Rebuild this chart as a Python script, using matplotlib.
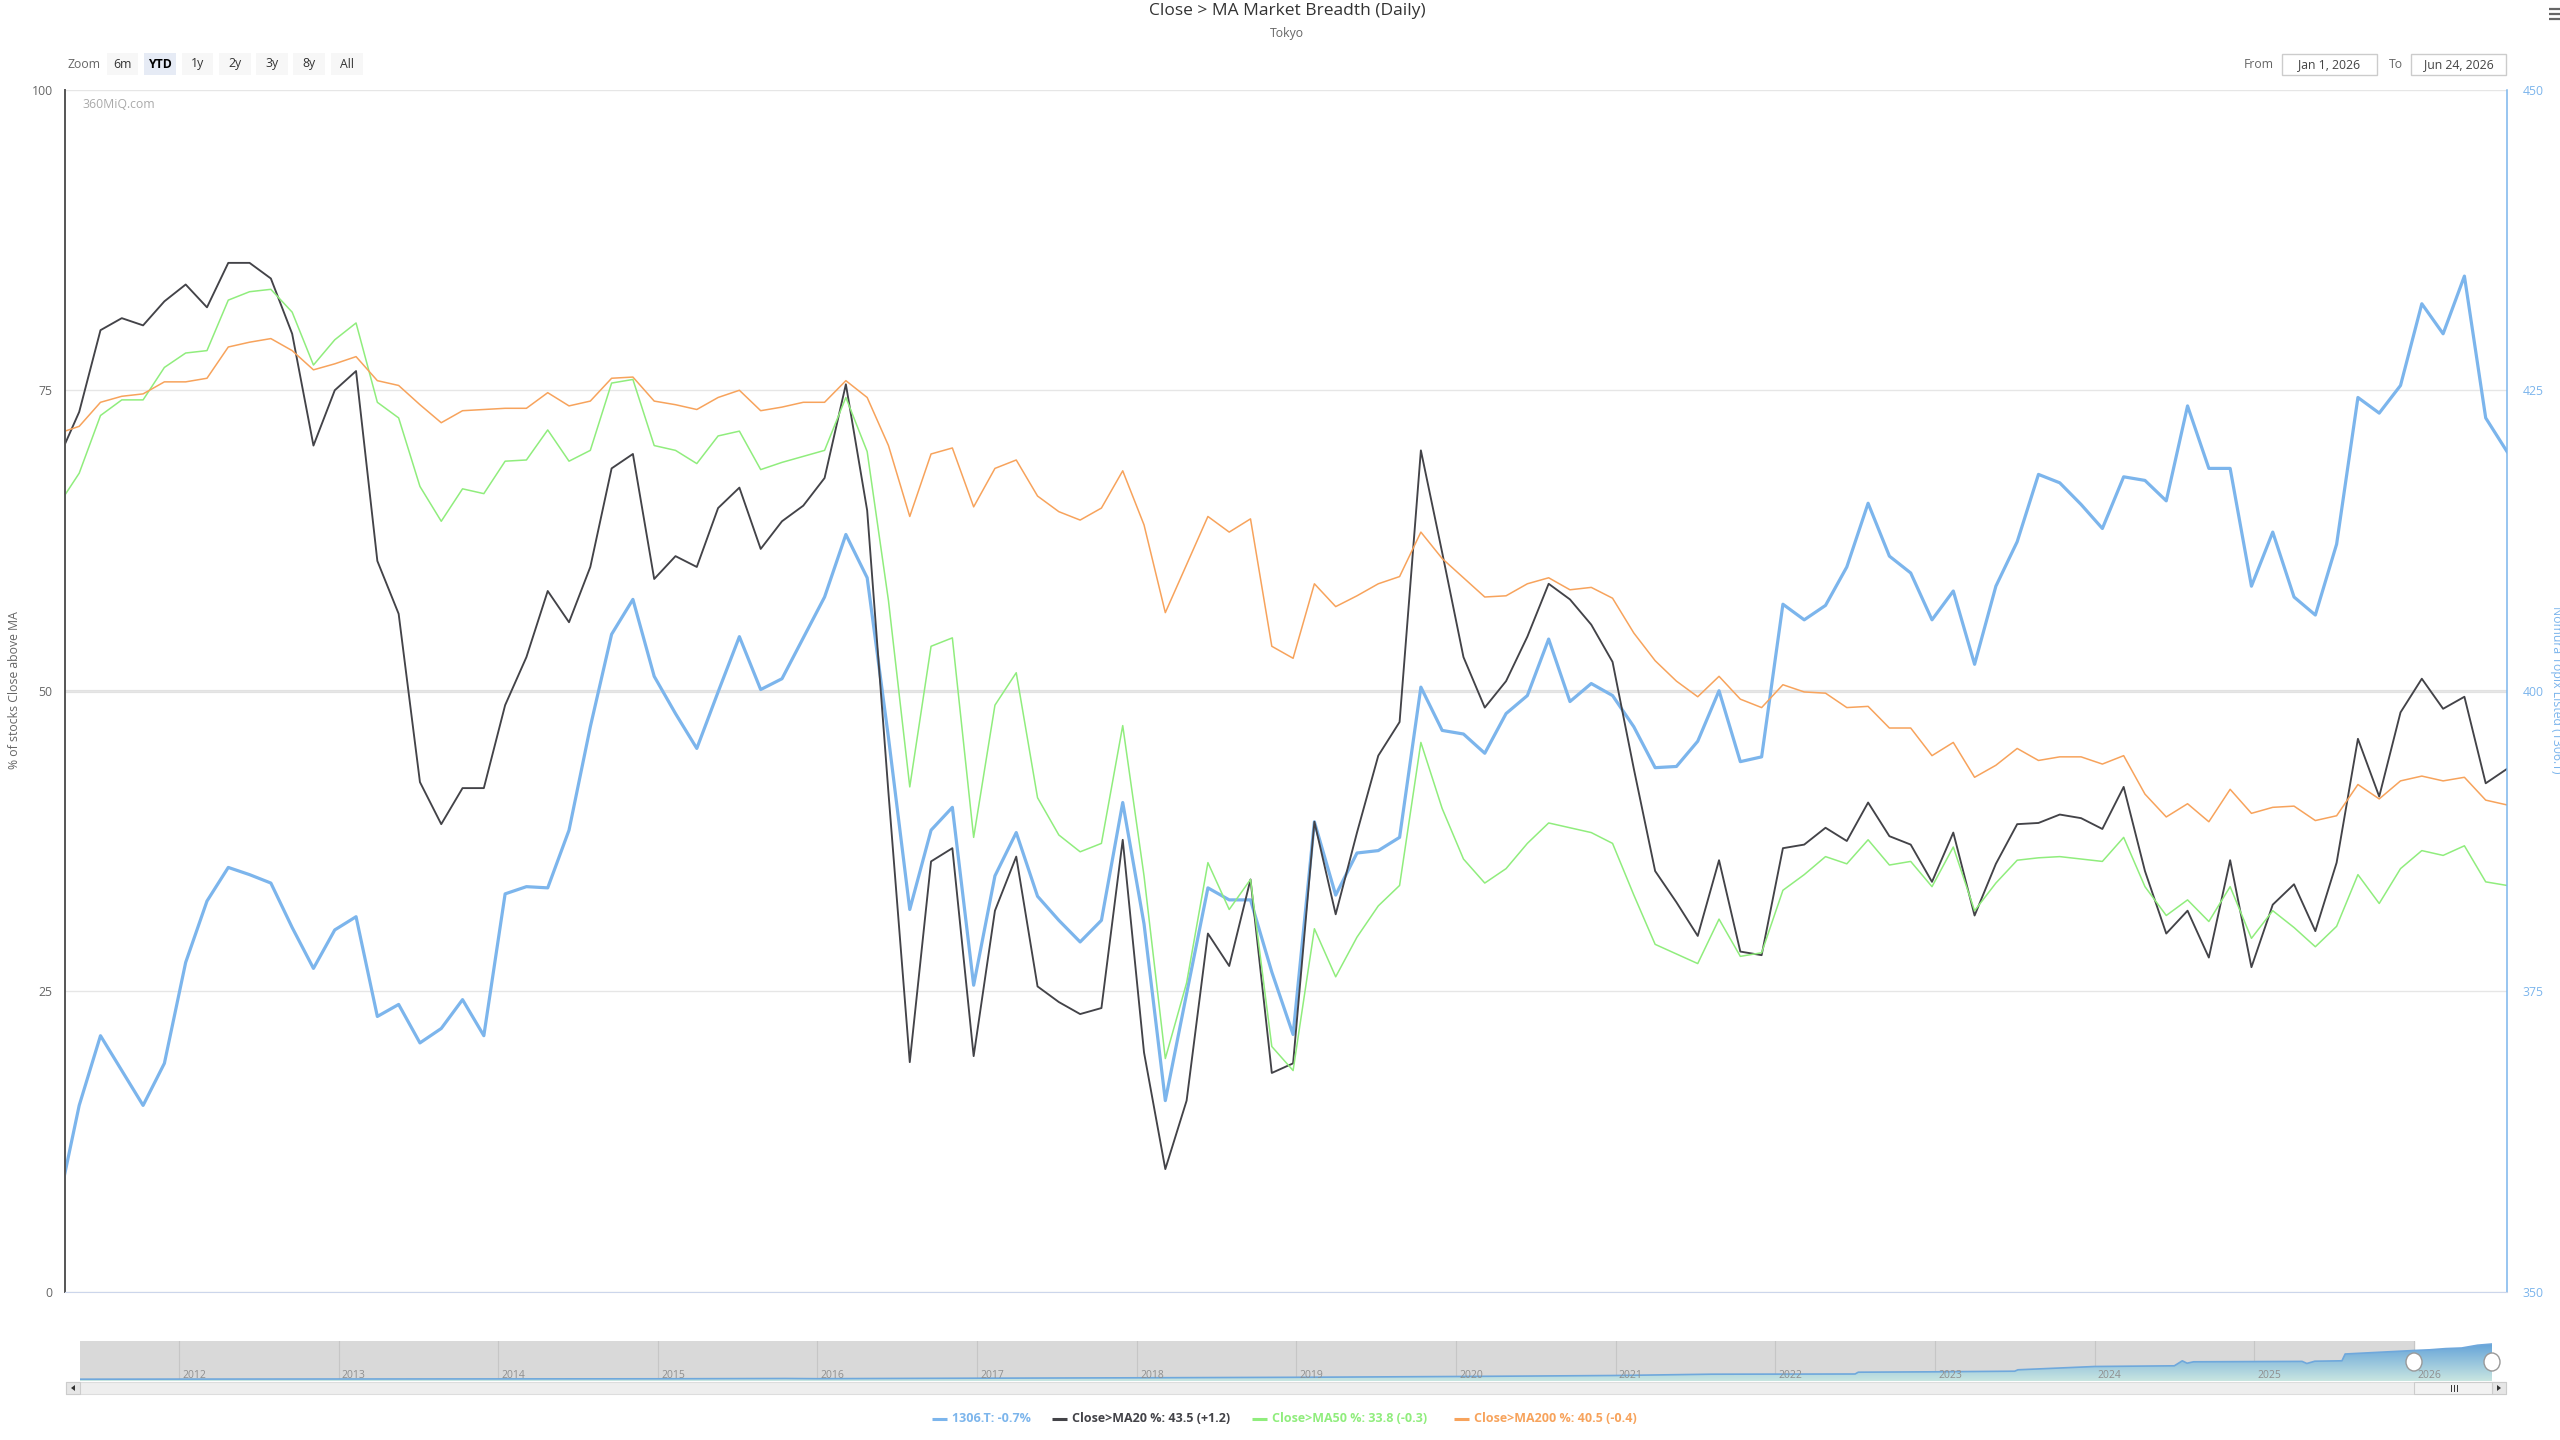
import numpy as np
import pandas as pd
import matplotlib
matplotlib.use("Agg")
import matplotlib.pyplot as plt
from matplotlib.patches import Rectangle, Ellipse, Polygon

W, H = 2560, 1440
plt.rcParams['font.family'] = ['Open Sans', 'DejaVu Sans']

# Tokyo trading days (Dec 30 2025 is the last point before the visible range)
holidays = ["2025-12-31", "2026-01-01", "2026-01-02", "2026-01-12", "2026-02-11",
            "2026-02-23", "2026-03-20", "2026-04-29", "2026-05-04", "2026-05-05", "2026-05-06"]
dates = pd.bdate_range("2025-12-30", "2026-06-24", freq="C", holidays=holidays)

topix = [357.1, 365.5, 371.3, 368.4, 365.5, 369.0, 377.4, 382.5, 385.3, 384.7,
         384.0, 380.3, 376.9, 380.1, 381.2, 372.9, 373.9, 370.7, 371.9, 374.3,
         371.3, 383.1, 383.7, 383.6, 388.4, 397.0, 404.7, 407.6, 401.2, 398.1,
         395.2, 399.9, 404.5, 400.1, 401.0, 404.4, 407.8, 413.0, 409.4, 396.1,
         381.8, 388.4, 390.3, 375.5, 384.6, 388.2, 382.9, 380.9, 379.1, 380.9,
         390.7, 380.6, 365.9, 374.8, 383.6, 382.6, 382.6, 376.6, 371.4, 389.1,
         383.0, 386.5, 386.7, 387.8, 400.3, 396.7, 396.4, 394.8, 398.1, 399.6,
         404.3, 399.1, 400.6, 399.6, 397.0, 393.6, 393.7, 395.8, 400.0, 394.1,
         394.5, 407.2, 405.9, 407.1, 410.3, 415.6, 411.2, 409.8, 405.9, 408.3,
         402.2, 408.7, 412.4, 418.0, 417.3, 415.5, 413.5, 417.8, 417.5, 415.8,
         423.7, 418.5, 418.5, 408.7, 413.2, 407.8, 406.3, 412.2, 424.4, 423.1,
         425.4, 432.2, 429.7, 434.5, 422.7, 419.9]

ma20 = [69.2, 73.2, 80.0, 81.0, 80.4, 82.4, 83.8, 81.9, 85.6, 85.6,
        84.3, 79.7, 70.4, 75.0, 76.6, 60.8, 56.4, 42.4, 38.9, 41.9,
        41.9, 48.8, 52.8, 58.3, 55.7, 60.3, 68.5, 69.7, 59.3, 61.2,
        60.3, 65.2, 66.9, 61.8, 64.1, 65.4, 67.7, 75.5, 65.0, 41.5,
        19.1, 35.8, 36.9, 19.6, 31.7, 36.2, 25.4, 24.1, 23.1, 23.6,
        37.6, 19.9, 10.2, 15.9, 29.8, 27.1, 34.3, 18.2, 19.0, 39.1,
        31.4, 38.2, 44.6, 47.4, 70.0, 61.5, 52.8, 48.6, 50.8, 54.5,
        58.9, 57.6, 55.5, 52.4, 43.5, 35.0, 32.4, 29.6, 35.9, 28.3,
        28.0, 36.9, 37.2, 38.6, 37.5, 40.7, 37.9, 37.2, 34.1, 38.2,
        31.3, 35.6, 38.9, 39.0, 39.7, 39.4, 38.5, 42.0, 35.0, 29.8,
        31.7, 27.8, 35.9, 27.0, 32.2, 33.9, 30.0, 35.7, 46.0, 41.2,
        48.2, 51.0, 48.5, 49.5, 42.3, 43.5]

ma50 = [65.4, 68.1, 72.9, 74.2, 74.2, 76.9, 78.1, 78.3, 82.5, 83.2,
        83.4, 81.5, 77.1, 79.2, 80.6, 74.0, 72.7, 67.0, 64.1, 66.8,
        66.4, 69.1, 69.2, 71.7, 69.1, 70.0, 75.6, 75.9, 70.4, 70.0,
        68.9, 71.2, 71.6, 68.4, 69.0, 69.5, 70.0, 74.4, 69.9, 57.5,
        42.0, 53.7, 54.4, 37.8, 48.8, 51.5, 41.1, 38.0, 36.6, 37.3,
        47.1, 34.6, 19.4, 25.7, 35.7, 31.8, 34.3, 20.4, 18.4, 30.2,
        26.2, 29.5, 32.1, 33.8, 45.7, 40.2, 36.0, 34.0, 35.2, 37.3,
        39.0, 38.6, 38.2, 37.3, 33.0, 28.9, 28.1, 27.3, 31.0, 27.9,
        28.2, 33.4, 34.7, 36.2, 35.6, 37.6, 35.5, 35.8, 33.7, 37.0,
        31.7, 34.0, 35.9, 36.1, 36.2, 36.0, 35.8, 37.8, 33.7, 31.3,
        32.6, 30.8, 33.7, 29.4, 31.7, 30.3, 28.7, 30.4, 34.7, 32.3,
        35.2, 36.7, 36.3, 37.1, 34.1, 33.8]

ma200 = [71.4, 72.0, 74.0, 74.5, 74.7, 75.7, 75.7, 76.0, 78.6, 79.0,
         79.3, 78.3, 76.7, 77.2, 77.8, 75.8, 75.4, 73.8, 72.3, 73.3,
         73.4, 73.5, 73.5, 74.8, 73.7, 74.1, 76.0, 76.1, 74.1, 73.8,
         73.4, 74.4, 75.0, 73.3, 73.6, 74.0, 74.0, 75.8, 74.4, 70.4,
         64.5, 69.7, 70.2, 65.3, 68.5, 69.2, 66.2, 64.9, 64.2, 65.2,
         68.3, 63.8, 56.5, 60.5, 64.5, 63.2, 64.3, 53.7, 52.7, 58.9,
         57.0, 57.9, 58.9, 59.5, 63.2, 61.0, 59.4, 57.8, 57.9, 58.9,
         59.4, 58.4, 58.6, 57.7, 54.8, 52.5, 50.8, 49.5, 51.2, 49.3,
         48.6, 50.5, 49.9, 49.8, 48.6, 48.7, 46.9, 46.9, 44.6, 45.7,
         42.8, 43.8, 45.2, 44.2, 44.5, 44.5, 43.9, 44.6, 41.4, 39.5,
         40.6, 39.1, 41.8, 39.8, 40.3, 40.4, 39.2, 39.6, 42.2, 41.0,
         42.5, 42.9, 42.5, 42.8, 40.9, 40.5]

tick_dates = ["2026-01-05", "2026-01-12", "2026-01-19", "2026-01-26", "2026-02-02", "2026-02-09",
              "2026-02-16", "2026-02-23", "2026-03-02", "2026-03-09", "2026-03-16", "2026-03-23",
              "2026-03-30", "2026-04-06", "2026-04-13", "2026-04-20", "2026-04-27", "2026-05-11",
              "2026-05-18", "2026-05-25", "2026-06-01", "2026-06-08", "2026-06-15", "2026-06-22"]
tick_labels = ["5. Jan", "12. Jan", "19. Jan", "26. Jan", "2. Feb", "9. Feb", "16. Feb", "23. Feb",
               "2. Mar", "9. Mar", "16. Mar", "23. Mar", "30. Mar", "6. Apr", "13. Apr", "20. Apr",
               "27. Apr", "11. May", "18. May", "25. May", "1. Jun", "8. Jun", "15. Jun", "22. Jun"]

# navigator (long history of 1306.T, rough read)
nav_years = [2011.38, 2012.0, 2013.0, 2014.0, 2015.0, 2015.8, 2016.0, 2017.0, 2018.0, 2019.0,
             2020.0, 2021.0, 2021.6, 2022.5, 2022.52, 2023.0, 2023.5, 2023.52, 2024.0, 2024.5,
             2024.55, 2024.58, 2024.62, 2025.3, 2025.33, 2025.38, 2025.55, 2025.57, 2026.0, 2026.1,
             2026.2, 2026.3, 2026.4, 2026.49]
nav_prices = [78, 79, 80, 81, 82, 85, 83, 88, 92, 97,
              105, 115, 128, 130, 148, 152, 158, 172, 205, 212,
              262, 238, 252, 256, 235, 258, 262, 330, 365, 372,
              384, 390, 418, 430]
nav_year_ticks = list(range(2012, 2027))

BLUE, BLACK, GREEN, ORANGE = '#7cb5ec', '#434348', '#90ed7d', '#f7a35c'


def box(x0, y0, x1, y1):
    return [x0 / W, 1 - y1 / H, (x1 - x0) / W, (y1 - y0) / H]


fig = plt.figure(figsize=(W / 100, H / 100), dpi=100)

dnum = dates.values.astype('datetime64[D]').astype(float)
x = np.arange(len(dates))
def ordinal(d): return np.interp(np.datetime64(d, 'D').astype(float), dnum, x)

# right axis (price) underneath, carries the grid
ax2 = fig.add_axes(box(65, 89.8, 2507, 1291.7))
ax = ax2.twinx()
ax.yaxis.tick_left()
ax2.yaxis.tick_right()
ax.set_zorder(ax2.get_zorder() + 1)
ax.patch.set_visible(False)

ax2.set_ylim(350, 450)
ax.set_ylim(0, 100)
ax2.set_xlim(ordinal("2026-01-01"), x[-1])
ax.set_xlim(ordinal("2026-01-01"), x[-1])

ax2.set_yticks([350, 375, 400, 425, 450])
ax2.grid(axis='y', color='#e6e6e6', lw=1)
ax2.axhline(400, color='#e2e2e2', lw=2.3, zorder=1)
ax2.plot(x, topix, color=BLUE, lw=2.3, solid_joinstyle='round', zorder=3)

ax.plot(x, ma20, color=BLACK, lw=1.35, solid_joinstyle='round')
ax.plot(x, ma50, color=GREEN, lw=1.1, solid_joinstyle='round')
ax.plot(x, ma200, color=ORANGE, lw=1.1, solid_joinstyle='round')

ax.set_yticks([0, 25, 50, 75, 100])
ax.tick_params(axis='y', length=0, pad=9, labelsize=8.8, labelcolor='#666666')
ax2.tick_params(axis='y', length=0, pad=11, labelsize=8.8, labelcolor=BLUE)
ax.set_xticks([ordinal(d) for d in tick_dates], tick_labels)
ax.tick_params(axis='x', length=4.3, width=1, color='#ccd6eb', pad=3, labelsize=8.5,
               labelcolor='#666666')
ax2.tick_params(axis='x', length=0, labelbottom=False)

for a in (ax, ax2):
    for s in a.spines.values():
        s.set_visible(False)
ax.spines['left'].set_visible(True)
ax.spines['left'].set_color('#555555')
ax.spines['left'].set_linewidth(1.4)
ax.spines['bottom'].set_visible(True)
ax.spines['bottom'].set_color('#ccd6eb')
ax.spines['right'].set_visible(True)
ax.spines['right'].set_color(BLUE)
ax.spines['right'].set_linewidth(1.1)

fig.text(15 / W, 1 - 690 / H, '% of stocks Close above MA', rotation=90, ha='center', va='center',
         color='#666666', fontsize=8.8)
fig.text(2556 / W, 1 - 690 / H, 'Nomura Topix Listed (1306.T)', rotation=270, ha='center',
         va='center', color=BLUE, fontsize=8.8)

# navigator
nav = fig.add_axes(box(80, 1341, 2492, 1381))
nav.set_xlim(2011.38, 2026.49)
nav.set_ylim(60, 460)
nav.axis('off')
nav.axvspan(2011.38, 2026.0, color='#d9d9d9', zorder=0)
for yr in nav_year_ticks:
    nav.axvline(yr, color='#c6c6c6', lw=0.8, zorder=1)
    nav.text(yr + 0.02, 95, str(yr), color='#8f8f8f', fontsize=7.5, ha='left', va='baseline',
             zorder=4)
area = nav.fill_between(nav_years, nav_prices, 60, color='none', lw=0, zorder=2)
grad = np.linspace(0, 1, 256).reshape(-1, 1)
cmap = matplotlib.colors.LinearSegmentedColormap.from_list('nav', ['#c9e6e1', '#5e9fd8'])
im = nav.imshow(grad, cmap=cmap, extent=[2011.38, 2026.49, 60, 460], origin='lower',
                aspect='auto', zorder=2)
im.set_clip_path(area.get_paths()[0], transform=nav.transData)
nav.plot(nav_years, nav_prices, color='#6fa8dc', lw=1.2, zorder=3)

# overlay in pixel coordinates for the chrome
ov = fig.add_axes([0, 0, 1, 1], zorder=20)
ov.set_xlim(0, W)
ov.set_ylim(H, 0)
ov.axis('off')
ov.patch.set_visible(False)

ov.text(1287, 11, 'Close > MA Market Breadth (Daily)', ha='center', va='center', fontsize=12.5,
        color='#333333')
ov.text(1287, 33, 'Tokyo', ha='center', va='center', fontsize=8.8, color='#666666')

ov.text(67, 64, 'Zoom', ha='left', va='center', fontsize=8.8, color='#666666')
buttons = [('6m', 107, 138), ('YTD', 144, 176), ('1y', 182, 213), ('2y', 219, 251),
           ('3y', 256, 288), ('8y', 293, 325), ('All', 331, 363)]
for lab, x0, x1 in buttons:
    sel = lab == 'YTD'
    ov.add_patch(Rectangle((x0, 53), x1 - x0, 22, fc='#e6ebf5' if sel else '#f7f7f7', ec='none'))
    ov.text((x0 + x1) / 2, 64, lab, ha='center', va='center', fontsize=8.8,
            color='#000000' if sel else '#333333', fontweight='bold' if sel else 'normal')

ov.text(2274, 64, 'From', ha='right', va='center', fontsize=8.8, color='#666666')
ov.text(2396, 64, 'To', ha='center', va='center', fontsize=8.8, color='#666666')
for lab, x0, x1 in [('Jan 1, 2026', 2282, 2377), ('Jun 24, 2026', 2411, 2506)]:
    ov.add_patch(Rectangle((x0, 54), x1 - x0, 21, fc='white', ec='#cccccc', lw=1))
    ov.text((x0 + x1) / 2, 64.5, lab, ha='center', va='center', fontsize=8.8, color='#444444')

ov.text(82, 105, '360MiQ.com', ha='left', va='center', fontsize=8.8, color='#aaaaaa')

for yy in (9, 14, 19):
    ov.plot([2549, 2560], [yy, yy], color='#666666', lw=1.6, solid_capstyle='butt')

# scrollbar and navigator handles
ov.add_patch(Rectangle((66, 1382), 2440, 12, fc='#eeeeee', ec='#dddddd', lw=0.8))
ov.add_patch(Rectangle((66, 1382), 14, 12, fc='#e6e6e6', ec='#cccccc', lw=0.8))
ov.add_patch(Rectangle((2492, 1382), 14, 12, fc='#e6e6e6', ec='#cccccc', lw=0.8))
ov.add_patch(Polygon([[75, 1385], [75, 1391], [71, 1388]], closed=True, fc='#333333', ec='none'))
ov.add_patch(Polygon([[2497, 1385], [2497, 1391], [2501, 1388]], closed=True, fc='#333333',
                     ec='none'))
ov.add_patch(Rectangle((2414, 1382), 78, 12, fc='#f2f2f2', ec='#cccccc', lw=0.8))
for gx in (2451, 2454, 2457):
    ov.plot([gx, gx], [1385, 1391], color='#333333', lw=0.7)
for hx in (2414, 2492):
    ov.add_patch(Ellipse((hx, 1362), 16, 18, fc='white', ec='#999999', lw=1))

# legend
legend_items = [('1306.T: -0.7%', BLUE, 932), ('Close>MA20 %: 43.5 (+1.2)', BLACK, 1052),
                ('Close>MA50 %: 33.8 (-0.3)', GREEN, 1252), ('Close>MA200 %: 40.5 (-0.4)', ORANGE, 1454)]
for lab, col, lx in legend_items:
    ov.plot([lx, lx + 15], [1419, 1419], color=col, lw=2.2, solid_capstyle='butt')
    ov.text(lx + 20, 1419, lab, ha='left', va='center', fontsize=9, color=col, fontweight='bold')

fig.savefig('out.png', dpi=100)
